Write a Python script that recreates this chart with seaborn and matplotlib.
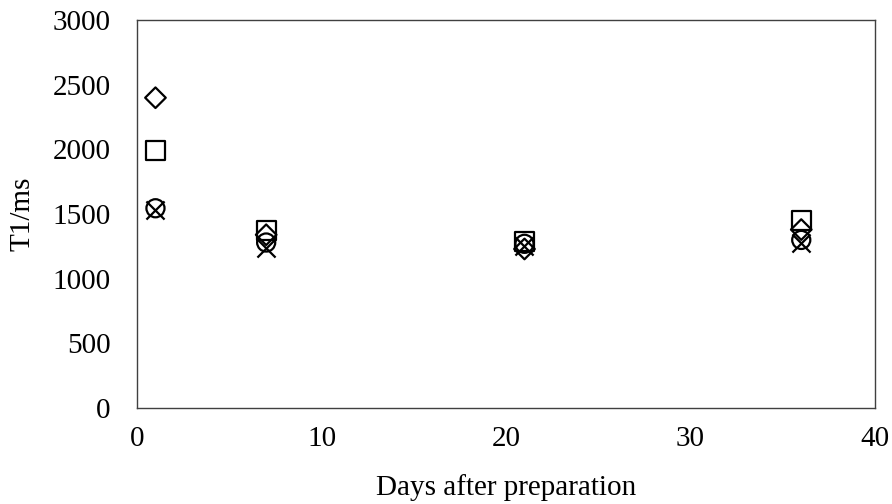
import matplotlib
matplotlib.use("Agg")
import matplotlib.pyplot as plt
import pandas as pd
import seaborn as sns

days = [1, 7, 21, 36]
series_names = ["diamond", "square", "circle", "cross"]
t1_diamond = [2400, 1340, 1230, 1380]
t1_square = [1990, 1370, 1290, 1450]
t1_circle = [1545, 1280, 1270, 1300]
t1_cross = [1530, 1240, 1250, 1280]

x_ticks = [0, 10, 20, 30, 40]
y_ticks = [0, 500, 1000, 1500, 2000, 2500, 3000]


def main() -> None:
    sns.set_theme(style="white")
    plt.rcParams["font.family"] = ["Liberation Serif", "DejaVu Serif"]

    df = pd.DataFrame({
        "day": days * 4,
        "t1": t1_diamond + t1_square + t1_circle + t1_cross,
        "series": [s for s in series_names for _ in days],
    })

    fig = plt.figure(figsize=(8.92, 5.04), dpi=100)
    ax = fig.add_axes([0.1536, 0.1905, 0.8274, 0.7695])

    styles = {
        "diamond": dict(marker="D", s=110),
        "square": dict(marker="s", s=190),
        "circle": dict(marker="o", s=170),
    }
    for name, kw in styles.items():
        sub = df[df["series"] == name]
        sns.scatterplot(data=sub, x="day", y="t1", ax=ax, facecolors="none",
                        edgecolors="black", linewidths=1.6, legend=False, zorder=3, **kw)
    sub = df[df["series"] == "cross"]
    sns.scatterplot(data=sub, x="day", y="t1", ax=ax, marker="x", s=170,
                    color="black", linewidths=1.6, legend=False, zorder=3)

    ax.set_xlim(0, 40)
    ax.set_ylim(0, 3000)
    ax.set_xticks(x_ticks)
    ax.set_yticks(y_ticks)
    ax.tick_params(length=0, labelsize=21, colors="black")
    ax.tick_params(axis="y", pad=19)
    ax.tick_params(axis="x", pad=13)
    ax.set_xlabel("Days after preparation", fontsize=21, color="black")
    ax.set_ylabel("T1/ms", fontsize=21, color="black")
    ax.xaxis.label.set_va("center")
    ax.yaxis.label.set_va("center")
    ax.xaxis.set_label_coords(0.5, -0.204)
    ax.yaxis.set_label_coords(-0.155, 0.5)
    for sp in ax.spines.values():
        sp.set_color("#404040")
        sp.set_linewidth(1.0)

    fig.savefig("out.png", dpi=100)
    plt.close(fig)


if __name__ == "__main__":
    main()
